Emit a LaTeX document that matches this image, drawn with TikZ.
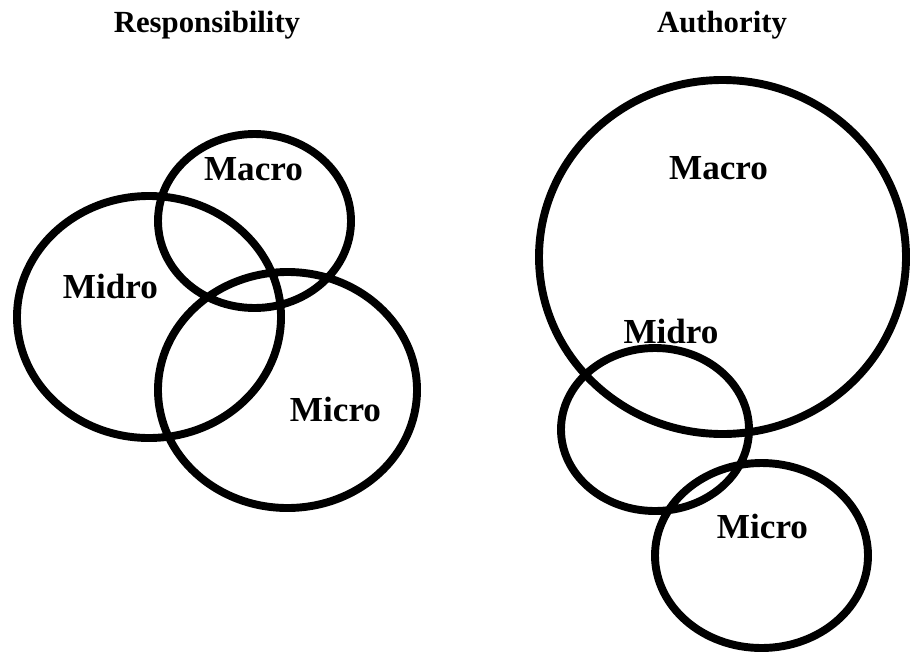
\documentclass[tikz,border=0pt]{standalone}
\usepackage{fontspec}
\setmainfont{Liberation Serif}
\usepackage{tikz}
\usetikzlibrary{positioning}

\begin{document}
\begin{tikzpicture}[x=0.02cm, y=0.02cm,
      ring/.style={line width=4.5pt},
      lbl/.style={anchor=base, inner sep=0pt, font=\bfseries\fontsize{20}{24}\selectfont},
      ttl/.style={anchor=base, inner sep=0pt, font=\bfseries\fontsize{17.5}{21}\selectfont}]
      \useasboundingbox (0, 0) rectangle (911, 657);
      % responsibility
      \draw[ring] (254.5, 436) ellipse [x radius=96.5, y radius=87]
                  (149, 340) ellipse [x radius=132, y radius=121]
                  (287.5, 267) ellipse [x radius=129.5, y radius=118];
      % authority
      \draw[ring] (722.5, 400) ellipse [x radius=183.5, y radius=177]
                  (655, 227.5) ellipse [x radius=94, y radius=81.5]
                  (761.5, 101.5) ellipse [x radius=106.5, y radius=92.5];
      \draw (207, 624) node (resp) [ttl] {Responsibility}
            (722, 624) node (auth) [ttl] {Authority};
      \draw (253.5, 477) node (rmacro) [lbl] {Macro}
            (110.5, 359) node (rmidro) [lbl] {Midro}
            (335.5, 236) node (rmicro) [lbl] {Micro}
            (718.5, 478) node (amacro) [lbl] {Macro}
            (671, 314) node (amidro) [lbl] {Midro}
            (762.5, 119) node (amicro) [lbl] {Micro};
      \end{tikzpicture}
\end{document}
